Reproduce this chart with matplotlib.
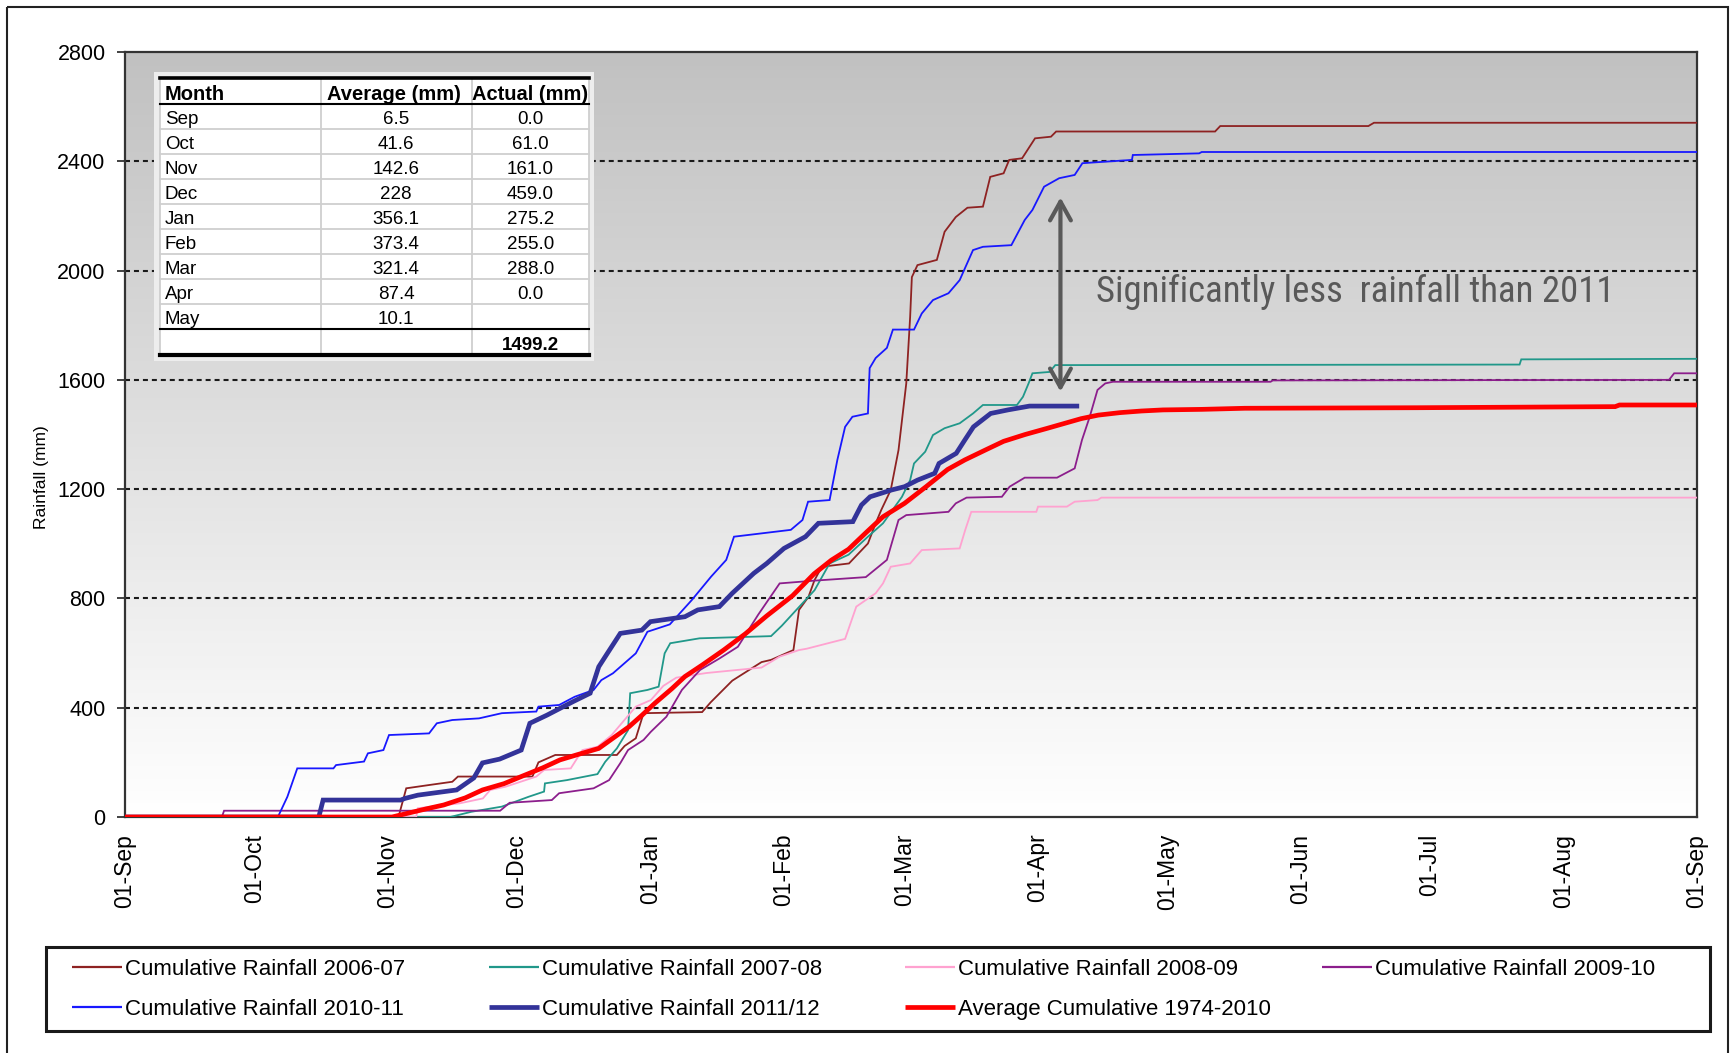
import numpy as np
import matplotlib
matplotlib.use('Agg')
import matplotlib.pyplot as plt
from matplotlib import font_manager
from matplotlib.lines import Line2D
from matplotlib.patches import Rectangle
from matplotlib.colors import LinearSegmentedColormap

def pick(*names):
    avail = {f.name for f in font_manager.fontManager.ttflist}
    for n in names:
        if n in avail:
            return n
    return 'DejaVu Sans'

SANS = pick('Liberation Sans', 'Arial', 'DejaVu Sans')
NARROW = pick('Liberation Sans Narrow', 'Roboto Condensed', 'Liberation Sans')
plt.rcParams['font.family'] = [SANS, 'DejaVu Sans']

# ---------------- data (day index from 01-Sep, cumulative mm) ----------------
month_days = [0, 30, 61, 91, 122, 153, 181, 212, 242, 273, 303, 334, 365]
month_labels = ['01-Sep', '01-Oct', '01-Nov', '01-Dec', '01-Jan', '01-Feb', '01-Mar',
                '01-Apr', '01-May', '01-Jun', '01-Jul', '01-Aug', '01-Sep']

d_0607 = [0, 63.5, 65.3, 70.6, 76, 77.3, 94.6, 96, 99.9, 114.2, 116, 118.6, 120.4, 134, 136, 141,
          147.8, 150, 155.2, 156.5, 158.7, 160.1, 161.8, 168.1, 172.5, 174.3, 175.6, 177.8, 179.6,
          181.4, 182.3, 182.7, 184, 188.5, 190.3, 192.9, 195.6, 199.2, 200.9, 204, 205.3, 208.3,
          211.3, 215, 216.2, 253.1, 254.3, 288.7, 290, 365]
v_0607 = [0, 0, 105, 117, 129, 148, 148, 200, 227, 227, 260, 288, 380, 384, 420, 499, 567, 575,
          611, 758, 806, 867, 916, 928, 1001, 1075, 1124, 1197, 1343, 1587, 1830, 1976, 2020, 2039,
          2142, 2196, 2230, 2234, 2343, 2356, 2405, 2411, 2484, 2490, 2509, 2509, 2529, 2529, 2541, 2541]

d_0708 = [0, 75.5, 80.4, 87.5, 93.7, 97.3, 97.5, 102.6, 109.7, 111.5, 114.2, 116.8, 117.3, 121.3,
          123.9, 125.3, 126.6, 133.4, 150, 152.5, 156, 160.1, 163.6, 168, 172.5, 176, 180.4, 182.3,
          183.2, 185.8, 187.6, 190.3, 193.8, 196.9, 199.2, 207.1, 208.5, 209.8, 210.7, 214.7, 216,
          323.8, 324.2, 365]
v_0708 = [0, 0, 19, 38, 74, 93, 123, 135, 157, 202, 251, 318, 453, 465, 477, 599, 636, 654, 662,
          700, 760, 830, 928, 960, 1026, 1075, 1172, 1233, 1294, 1337, 1398, 1423, 1441, 1477, 1508,
          1508, 1538, 1587, 1624, 1629, 1654, 1656, 1675, 1677]

d_0809 = [0, 67.6, 68, 77.7, 83.1, 84.8, 88.4, 95.5, 97.3, 103.5, 106.2, 109.7, 113, 118.6, 122.1,
          125, 128, 135, 147.8, 152, 156.5, 158.3, 167.2, 169.8, 174.3, 176, 177.8, 182.3, 185,
          193.8, 195.1, 196.5, 211.6, 212, 218.7, 220.5, 225.8, 226.7, 365]
v_0809 = [0, 0, 32, 50, 68, 99, 111, 148, 172, 178, 245, 257, 300, 404, 428, 480, 510, 527, 547,
          587, 611, 616, 652, 770, 819, 855, 916, 928, 977, 983, 1051, 1117, 1117, 1136, 1136, 1154,
          1160, 1169, 1169]

d_0910 = [0, 22.5, 23, 87.1, 89.3, 99.1, 100.8, 108.8, 112.4, 115, 116.8, 120.4, 122.1, 125.7,
          127.5, 129.3, 133.5, 138, 142.3, 147, 152, 160, 172, 176.9, 179.6, 181.4, 191.2, 192.9,
          195.4, 203.6, 205.4, 208.9, 216.4, 220.5, 222.2, 224, 225.8, 227.6, 229.4, 266, 266.5,
          358.5, 359.7, 365]
v_0910 = [0, 0, 23, 23, 52, 62, 87, 105, 135, 197, 245, 282, 312, 367, 416, 465, 538, 580, 623,
          740, 855, 865, 878, 941, 1087, 1105, 1117, 1148, 1169, 1172, 1209, 1242, 1242, 1276, 1380,
          1465, 1563, 1587, 1593, 1593, 1598, 1600, 1624, 1624]

d_1011 = [0, 35.5, 37.7, 40, 48.4, 49, 55.5, 56.4, 60, 61.3, 70.6, 72.4, 76, 82.2, 87.5, 95.5, 96,
          100.8, 104.4, 108.8, 110.6, 113.3, 118.6, 121.3, 126.5, 131.6, 136.1, 139.6, 141.4, 154.6,
          157.3, 158.6, 163.6, 165.4, 167.2, 168.9, 172.5, 172.9, 174.3, 176.9, 178.3, 183.2, 185,
          187.6, 191.2, 193.8, 196.9, 199.2, 205.8, 208.9, 210.7, 213.4, 216.9, 220.5, 222.3, 233.8,
          234, 249.4, 250, 365]
v_1011 = [0, 0, 74, 178, 178, 190, 203, 233, 245, 300, 306, 343, 355, 361, 380, 386, 404, 410, 440,
          465, 501, 526, 599, 678, 705, 794, 880, 941, 1026, 1051, 1087, 1154, 1160, 1307, 1428,
          1465, 1477, 1643, 1680, 1717, 1784, 1784, 1843, 1892, 1917, 1965, 2075, 2087, 2093, 2185,
          2222, 2307, 2338, 2350, 2393, 2405, 2423, 2429, 2434, 2434]

d_1112 = [0, 45, 46, 64, 65, 68, 77, 81, 83, 87, 92, 94, 98, 104, 108, 110, 112, 115, 120, 122, 130,
          133, 138, 141, 146, 149, 153, 158, 161, 169, 171, 173, 178, 181, 184, 188, 189, 193, 195,
          197, 201, 205, 210, 221]
v_1112 = [0, 0, 62, 62, 68, 80, 99, 143, 198, 212, 245, 343, 373, 422, 453, 550, 599, 672, 684, 715,
          733, 758, 770, 819, 892, 928, 983, 1026, 1075, 1081, 1142, 1172, 1197, 1209, 1233, 1258,
          1294, 1331, 1380, 1428, 1477, 1490, 1504, 1504]

d_avg = [0, 62, 66, 70, 74, 79, 83, 88, 92, 97, 101, 105, 110, 113, 117, 120, 123, 127, 130, 134,
         139, 144, 149, 155, 160, 164, 168, 172, 176, 181, 186, 191, 195, 200, 204, 209, 214, 218,
         222, 226, 231, 236, 241, 250, 260, 300, 346, 347, 365]
v_avg = [0, 0, 15, 30, 44, 70, 99, 122, 148, 180, 209, 228, 251, 285, 330, 372, 416, 470, 514, 556,
         611, 670, 736, 810, 890, 940, 980, 1040, 1099, 1148, 1209, 1272, 1307, 1345, 1375, 1400,
         1422, 1440, 1458, 1471, 1480, 1486, 1490, 1492, 1496, 1498, 1502, 1508, 1508]

series_names = ['Cumulative Rainfall 2006-07', 'Cumulative Rainfall 2007-08',
                'Cumulative Rainfall 2008-09', 'Cumulative Rainfall 2009-10',
                'Cumulative Rainfall 2010-11', 'Cumulative Rainfall 2011/12',
                'Average Cumulative 1974-2010']
series_days = [d_0607, d_0708, d_0809, d_0910, d_1011, d_1112, d_avg]
series_vals = [v_0607, v_0708, v_0809, v_0910, v_1011, v_1112, v_avg]
series_colors = ['#8E2222', '#21988A', '#FFA2D0', '#8C1E8C', '#1818FF', '#333399', '#FF0000']
series_lw = [1.3, 1.3, 1.3, 1.3, 1.3, 3.4, 3.4]

table_header = ['Month', 'Average (mm)', 'Actual (mm)']
table_months = ['Sep', 'Oct', 'Nov', 'Dec', 'Jan', 'Feb', 'Mar', 'Apr', 'May']
table_avg = ['6.5', '41.6', '142.6', '228', '356.1', '373.4', '321.4', '87.4', '10.1']
table_act = ['0.0', '61.0', '161.0', '459.0', '275.2', '255.0', '288.0', '0.0', '']
table_total = '1499.2'

y_ticks = [0, 400, 800, 1200, 1600, 2000, 2400, 2800]

# ---------------- figure ----------------
W, H = 1730, 1053
fig = plt.figure(figsize=(W / 100, H / 100), dpi=100)
fig.patch.set_facecolor('white')

AX_L, AX_R, AX_T, AX_B = 125, 1697, 52, 817
ax = fig.add_axes([AX_L / W, 1 - AX_B / H, (AX_R - AX_L) / W, (AX_B - AX_T) / H])
ax.patch.set_visible(False)

cmap = LinearSegmentedColormap.from_list('bg', ['#C1C1C1', '#FFFFFF'])
grad = np.linspace(0, 1, 256).reshape(-1, 1)
ax.imshow(grad, extent=[0, 365, 0, 2800], origin='upper', aspect='auto', cmap=cmap,
          zorder=0, interpolation='bilinear')

for yv in y_ticks[1:-1]:
    ax.axhline(yv, color='#1a1a1a', lw=1.5, linestyle=(0, (2.4, 1.9)), zorder=1)

series_lines = []
for d, v, c, lw, nm in zip(series_days, series_vals, series_colors, series_lw, series_names):
    ln, = ax.plot(d, v, color=c, lw=lw, label=nm, zorder=3, solid_joinstyle='miter')
    series_lines.append(ln)

ax.set_xlim(0, 365)
ax.set_ylim(0, 2800)
ax.set_yticks(y_ticks)
ax.set_yticklabels([str(t) for t in y_ticks])
ax.set_xticks(month_days)
ax.set_xticklabels(month_labels, rotation=90)
ax.tick_params(axis='y', direction='out', length=6, width=1.3, color='#333333',
               labelsize=15.5, pad=8)
ax.tick_params(axis='x', length=0, labelsize=16.5, pad=12)
for sp in ax.spines.values():
    sp.set_color('#333333')
    sp.set_linewidth(1.6)

ax.set_ylabel('Rainfall (mm)', fontsize=12.5)
ax.yaxis.set_label_coords((49 - AX_L) / (AX_R - AX_L), (AX_B - 477) / (AX_B - AX_T))

# annotation
ax.annotate('', xy=(217.2, 2268), xytext=(217.2, 1557),
            arrowprops=dict(arrowstyle='<->,head_length=1.35,head_width=0.75',
                            color='#595959', lw=3, shrinkA=0, shrinkB=0),
            zorder=5)
ax.text(225.4, 1884, 'Significantly less  rainfall than 2011', family=[NARROW, 'DejaVu Sans'],
        fontsize=26.5, color='#595959', ha='left', va='baseline', zorder=5)

# ---------------- overlay (pixel coords) for table, legend, border ----------------
ov = fig.add_axes([0, 0, 1, 1], zorder=10)
ov.set_xlim(0, W)
ov.set_ylim(H, 0)
ov.axis('off')
ov.patch.set_visible(False)

# outer border
ov.add_patch(Rectangle((7, 7), W - 9, H + 50, fill=False, edgecolor='#222222', lw=1.5))

# table
TL, TR = 160, 589
c1, c2 = 320.7, 471.7
row_top = 78.3
hdr_bot = 104.3
row_h = 25.0
rows_y = [hdr_bot + i * row_h for i in range(10)]  # boundaries
tot_bot = 355.0
ov.add_patch(Rectangle((154, 72), 440, 289, facecolor='#EDEDED', edgecolor='none'))
ov.add_patch(Rectangle((TL, row_top), TR - TL, tot_bot - row_top, facecolor='white',
                       edgecolor='none'))
for xv in [TL, c1, c2, TR]:
    ov.add_line(Line2D([xv, xv], [row_top, tot_bot], color='#CFCFCF', lw=1.3))
for yv in rows_y[1:-1]:
    ov.add_line(Line2D([TL, TR], [yv, yv], color='#CFCFCF', lw=1.3))
ov.add_line(Line2D([TL, TR], [row_top, row_top], color='black', lw=2.6))
ov.add_line(Line2D([TL, TR], [hdr_bot, hdr_bot], color='black', lw=1.5))
ov.add_line(Line2D([TL, TR], [rows_y[-1], rows_y[-1]], color='black', lw=1.5))
ov.add_line(Line2D([TL, TR], [tot_bot, tot_bot], color='black', lw=3.0))

mid1 = (c1 + c2) / 2
mid2 = (c2 + TR) / 2
hy = (row_top + hdr_bot) / 2 + 1
ov.text(165, hy, table_header[0], fontsize=14.5, weight='bold', ha='left', va='center_baseline')
ov.text(mid1 - 2, hy, table_header[1], fontsize=14.5, weight='bold', ha='center', va='center_baseline')
ov.text(mid2, hy, table_header[2], fontsize=14.5, weight='bold', ha='center', va='center_baseline')
for i, (m, a, b) in enumerate(zip(table_months, table_avg, table_act)):
    yc = rows_y[i] + row_h / 2 + 1
    ov.text(165, yc, m, fontsize=13.5, ha='left', va='center_baseline')
    ov.text(mid1, yc, a, fontsize=13.5, ha='center', va='center_baseline')
    if b:
        ov.text(mid2, yc, b, fontsize=13.5, ha='center', va='center_baseline')
ov.text(mid2, (rows_y[-1] + tot_bot) / 2 + 1, table_total, fontsize=13.5, weight='bold',
        ha='center', va='center_baseline')

# legend
ov.add_patch(Rectangle((46, 947), 1664, 84, fill=False, edgecolor='#1a1a1a', lw=2.2))
leg_cols = [72, 489, 905, 1322]
leg_rows = [967, 1007]
for i, line in enumerate(series_lines):
    r, k = divmod(i, 4)
    x0, y0 = leg_cols[k], leg_rows[r]
    ov.add_line(Line2D([x0, x0 + 50], [y0, y0], color=line.get_color(),
                       lw=max(line.get_linewidth(), 1.6), solid_capstyle='butt'))
    ov.text(x0 + 53, y0, line.get_label(), fontsize=16, ha='left', va='center_baseline')

fig.savefig('out.png', dpi=100)
